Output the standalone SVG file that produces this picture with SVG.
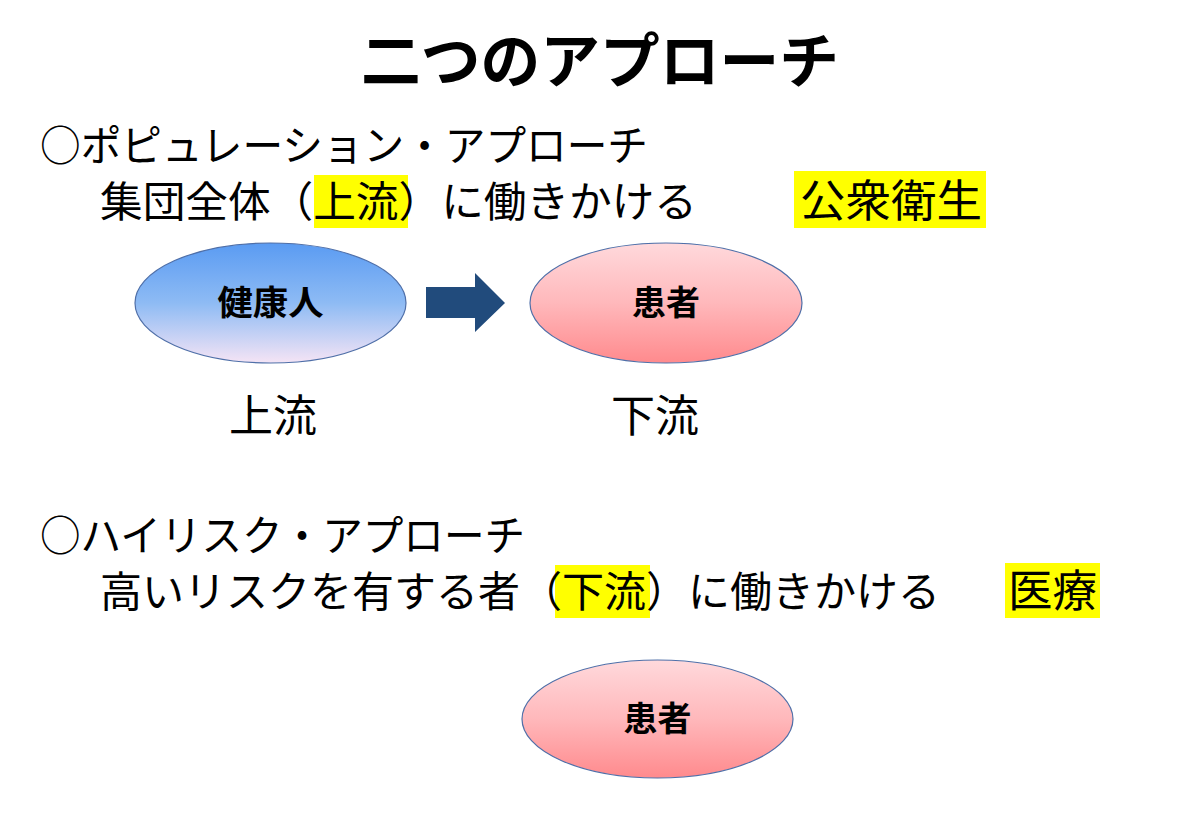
<svg xmlns="http://www.w3.org/2000/svg" width="1200" height="831" viewBox="0 0 1200 831">
<style>
.t{font-family:"Noto Sans CJK JP","Noto Sans CJK SC",sans-serif;fill:#000}
.title{font-size:60px;font-weight:bold}
.body{font-size:42px}
.lbl{font-size:44px}
.node{font-size:34px;font-weight:bold}
.hl{fill:#FFFF00}
.ell{stroke:#4F6FA8;stroke-width:1.2}
</style>
<defs>
<linearGradient id="gBlue" x1="0" y1="0" x2="0" y2="1">
<stop offset="0" stop-color="#5A9BF2"/>
<stop offset="0.5" stop-color="#8EBBF4"/>
<stop offset="1" stop-color="#F5E4F5"/>
</linearGradient>
<linearGradient id="gPink" x1="0" y1="0" x2="0" y2="1">
<stop offset="0" stop-color="#FFD9DC"/>
<stop offset="0.5" stop-color="#FFB8BB"/>
<stop offset="1" stop-color="#FF8A8D"/>
</linearGradient>
</defs>
<rect width="1200" height="831" fill="#FFFFFF"/>
<text class="t title" x="600" y="83" text-anchor="middle" textLength="478" lengthAdjust="spacingAndGlyphs">二つのアプローチ</text>
<text class="t body" x="40" y="161" textLength="608" lengthAdjust="spacingAndGlyphs">○ポピュレーション・アプローチ</text>
<rect class="hl" x="314" y="175" width="94" height="53"/>
<rect class="hl" x="794" y="171" width="192" height="57"/>
<text class="t body" x="100" y="217" textLength="597" lengthAdjust="spacingAndGlyphs">集団全体（上流）に働きかける</text>
<text class="t lbl" x="800" y="217" textLength="182" lengthAdjust="spacingAndGlyphs">公衆衛生</text>
<g id="node-kenkoujin">
<ellipse class="ell" cx="270.5" cy="303" rx="135.5" ry="60" fill="url(#gBlue)"/>
<text class="t node" x="270.5" y="315" text-anchor="middle" textLength="106" lengthAdjust="spacingAndGlyphs">健康人</text>
</g>
<g id="node-kanja1">
<ellipse class="ell" cx="666" cy="303" rx="136" ry="60" fill="url(#gPink)"/>
<text class="t node" x="666" y="315" text-anchor="middle">患者</text>
</g>
<g id="connectors">
<polygon points="426,287 475,287 475,273 505,303 475,332 475,318 426,318" fill="#214B7C"/>
</g>
<text class="t lbl" x="273" y="432" text-anchor="middle">上流</text>
<text class="t lbl" x="655" y="432" text-anchor="middle">下流</text>
<text class="t body" x="40" y="551" textLength="485" lengthAdjust="spacingAndGlyphs">○ハイリスク・アプローチ</text>
<rect class="hl" x="555" y="565" width="95" height="53"/>
<rect class="hl" x="1005" y="563" width="95" height="55"/>
<text class="t body" x="100" y="607" textLength="840" lengthAdjust="spacingAndGlyphs">高いリスクを有する者（下流）に働きかける</text>
<text class="t lbl" x="1008" y="607" textLength="89" lengthAdjust="spacingAndGlyphs">医療</text>
<g id="node-kanja2">
<ellipse class="ell" cx="657.5" cy="719" rx="135.5" ry="59" fill="url(#gPink)"/>
<text class="t node" x="657.5" y="731" text-anchor="middle">患者</text>
</g>
</svg>
